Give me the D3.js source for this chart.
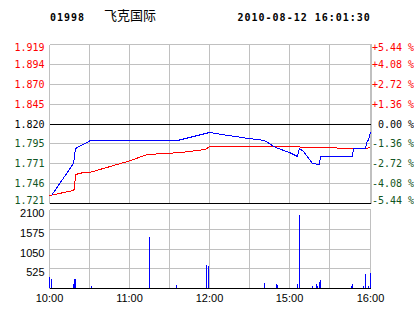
<!DOCTYPE html>
<html>
  <head>
    <meta charset="utf-8">
    <style>
      body { margin: 0; background: #fff; }
      .grid line { stroke: #c0c0c0; stroke-width: 1px; shape-rendering: crispEdges; }
      .mono { font-family: "DejaVu Sans Mono", monospace; font-size: 10px; }
      .sans { font-family: "Liberation Sans", Arial, sans-serif; font-size: 11px; }
      path.series { fill: none; stroke-width: 1px; shape-rendering: crispEdges; }
    </style>
    <script src="https://d3js.org/d3.v7.min.js"></script>
  </head>
  <body>
    <svg class="chart"></svg>

    <script>
      const code = '01998';
      const stockName = '飞克国际';
      const stamp = '2010-08-12 16:01:30';

      const prevClose = 1.820;
      const pctTicks = [5.44, 4.08, 2.72, 1.36, 0, -1.36, -2.72, -4.08, -5.44];
      const priceLabels = ['1.919', '1.894', '1.870', '1.845', '1.820', '1.795', '1.771', '1.746', '1.721'];

      const volTicks = [2100, 1575, 1050, 525];
      const timeLabels = ['10:00', '11:00', '12:00', '15:00', '16:00'];

      const priceTimes = ['10:02', '10:18', '10:20', '10:31', '11:36', '12:00', '12:14', '12:29', '14:41', '14:49',
        '15:00', '15:06', '15:07', '15:10', '15:17', '15:22', '15:23', '15:47', '15:48', '15:57', '15:58', '15:59', '16:00'];
      const priceValues = [1.731, 1.771, 1.790, 1.800, 1.800, 1.810, 1.806, 1.802, 1.799, 1.791,
        1.784, 1.780, 1.790, 1.786, 1.771, 1.770, 1.780, 1.780, 1.790, 1.790, 1.800, 1.800, 1.810];

      const avgTimes = ['10:00', '10:18', '10:19', '10:20', '10:26', '10:30', '10:59', '11:14', '11:39', '11:57',
        '12:00', '15:07', '15:08', '15:35', '15:36', '15:58', '16:00'];
      const avgValues = [1.731, 1.737, 1.740, 1.757, 1.759, 1.760, 1.773, 1.782, 1.785, 1.788,
        1.792, 1.792, 1.791, 1.791, 1.790, 1.790, 1.792];

      const volTimes = ['10:00', '10:02', '10:18', '10:19', '10:20', '10:32', '11:15', '11:35', '11:58', '11:59',
        '14:41', '14:50', '14:51', '15:06', '15:07', '15:17', '15:20', '15:21', '15:22', '15:23',
        '15:46', '15:47', '15:55', '15:57', '15:59', '16:00'];
      const volValues = [297, 250, 118, 250, 250, 66, 1378, 92, 617, 590,
        140, 112, 87, 112, 1950, 60, 112, 70, 175, 220,
        70, 112, 60, 376, 60, 411];

      // trading minutes since 10:00, lunch break 12:30-14:30 removed
      function toMin(s) {
        const [h, m] = s.split(':').map(Number);
        let t = (h - 10) * 60 + m;
        if (h >= 14) t -= 120;
        return t;
      }
      const px = v => Math.floor(v) + 0.5;
      const pctPrice = p => prevClose * (1 + p / 100);

      const width = 414;
      const height = 314;

      const svg = d3.select('svg')
        .attr('width', width)
        .attr('height', height);

      svg.append('rect').attr('width', width).attr('height', height).attr('fill', '#fff');

      const x = d3.scaleLinear().domain([0, 240]).range([49, 370]);
      const yP = d3.scaleLinear()
        .domain([pctPrice(d3.min(pctTicks)), pctPrice(d3.max(pctTicks))])
        .range([203.5, 44.5]);
      const yV = d3.scaleLinear().domain([0, 2100]).range([288.5, 209.5]);

      const gridMins = d3.range(0, 241, 30);
      const topY = px(yP(pctPrice(pctTicks[0])));
      const botY = px(yP(pctPrice(pctTicks[pctTicks.length - 1])));

      // header
      svg.append('text').attr('class', 'mono').attr('x', 50).attr('y', 20.5)
        .attr('font-weight', 'bold').attr('letter-spacing', 1).text(code);
      svg.append('text').attr('x', 104).attr('y', 19.5)
        .attr('font-family', '"Noto Sans CJK SC", sans-serif').attr('font-size', 13).text(stockName);
      svg.append('text').attr('class', 'mono').attr('x', 237.5).attr('y', 20.5)
        .attr('font-weight', 'bold').attr('letter-spacing', 1).text(stamp);

      // price panel grid
      const g1 = svg.append('g').attr('class', 'grid');
      g1.selectAll('.v').data(gridMins).join('line')
        .attr('x1', d => px(x(d))).attr('x2', d => px(x(d)))
        .attr('y1', topY).attr('y2', botY);
      g1.selectAll('.h').data(pctTicks).join('line')
        .attr('x1', px(x(0))).attr('x2', px(x(240)) + 1)
        .attr('y1', d => px(yP(pctPrice(d)))).attr('y2', d => px(yP(pctPrice(d))))
        .style('stroke', (d, i) => (d === 0 || i === pctTicks.length - 1) ? '#000' : null);
      // right axis line
      g1.append('line')
        .attr('x1', px(x(240)) + 1).attr('x2', px(x(240)) + 1)
        .attr('y1', topY).attr('y2', botY);

      const tickColor = d => d > 0 ? '#ff0000' : d < 0 ? '#115522' : '#000';
      const n = pctTicks.length;
      const dyFor = i => i === 0 ? 6 : i === n - 1 ? 0.5 : 3.8;

      svg.selectAll('.pl').data(pctTicks).join('text')
        .attr('class', 'mono')
        .attr('text-anchor', 'end')
        .attr('x', 44.5)
        .attr('y', (d, i) => px(yP(pctPrice(d))) + dyFor(i))
        .attr('fill', tickColor)
        .text((d, i) => priceLabels[i]);

      svg.selectAll('.pr').data(pctTicks).join('text')
        .attr('class', 'mono')
        .attr('x', 372)
        .attr('y', (d, i) => px(yP(pctPrice(d))) + dyFor(i))
        .attr('fill', tickColor)
        .attr('xml:space', 'preserve')
        .style('white-space', 'pre')
        .text(d => (d > 0 ? '+' : d < 0 ? '-' : ' ') + Math.abs(d).toFixed(2) + ' %');

      // price and average lines, snapped to pixel centres
      const line = d3.line()
        .x(d => px(x(toMin(d[0]))))
        .y(d => px(yP(d[1])));

      svg.append('path').attr('class', 'series')
        .datum(avgTimes.map((t, i) => [t, avgValues[i]]))
        .attr('stroke', '#ff0000')
        .attr('d', line);

      svg.append('path').attr('class', 'series')
        .datum(priceTimes.map((t, i) => [t, priceValues[i]]))
        .attr('stroke', '#0000ff')
        .attr('d', line);

      // volume panel
      const g2 = svg.append('g').attr('class', 'grid');
      g2.selectAll('.v').data(gridMins).join('line')
        .attr('x1', d => px(x(d))).attr('x2', d => px(x(d)))
        .attr('y1', px(yV(2100))).attr('y2', px(yV(0)));
      g2.selectAll('.h').data(volTicks.concat([0])).join('line')
        .attr('x1', px(x(0))).attr('x2', px(x(240)))
        .attr('y1', d => px(yV(d))).attr('y2', d => px(yV(d)))
        .style('stroke', d => d === 0 ? '#000' : null);

      svg.selectAll('.vl').data(volTicks).join('text')
        .attr('class', 'sans')
        .attr('text-anchor', 'end')
        .attr('x', 44.5)
        .attr('y', d => px(yV(d)) + 7.5)
        .text(d => d);

      svg.selectAll('.bar').data(volTimes).join('rect')
        .attr('x', d => Math.floor(x(toMin(d))))
        .attr('width', 1)
        .attr('y', (d, i) => Math.round(yV(volValues[i])))
        .attr('height', (d, i) => Math.floor(yV(0)) - Math.round(yV(volValues[i])))
        .attr('fill', '#0000ff');

      svg.selectAll('.xl').data(timeLabels).join('text')
        .attr('class', 'sans')
        .attr('text-anchor', 'middle')
        .attr('x', d => px(x(toMin(d))))
        .attr('y', 302)
        .text(d => d);
    </script>
  </body>
</html>
